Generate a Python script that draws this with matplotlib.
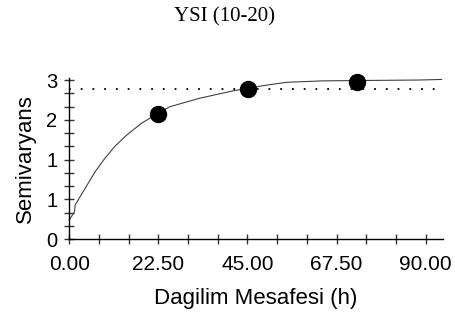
import matplotlib
matplotlib.use("Agg")
import matplotlib.pyplot as plt

# lag distances and semivariance of the three experimental points
lag = [22.5, 45.05, 72.7]
semivar = [2.21, 2.64, 2.77]

# fitted model curve
model_h = [0, 1.35, 1.5, 4.0, 6.5, 9.0, 11.5, 14.5, 18.3, 21.6, 25.4, 33.0,
           41.4, 49.8, 54.9, 64.1, 88.6, 94.0]
model_g = [0.335, 0.48, 0.60, 0.89, 1.18, 1.42, 1.63, 1.83, 2.04, 2.18, 2.33,
           2.48, 2.61, 2.71, 2.76, 2.785, 2.80, 2.81]

sill = 2.636

x_ticks = [i * 7.5 for i in range(13)]
x_labels = ["%.2f" % v if i % 3 == 0 else "" for i, v in enumerate(x_ticks)]
y_ticks = [i * 2.8 / 12 for i in range(13)]
y_labels = ["0", "", "", "1", "", "", "1", "", "", "2", "", "", "3"]

plt.rcParams["font.family"] = ["Liberation Sans", "DejaVu Sans"]

fig = plt.figure(figsize=(4.55, 3.28), dpi=100)
ax = fig.add_axes([0.152, 0.271, 0.822, 0.492])

ax.plot(model_h, model_g, color="#404040", lw=0.8, clip_on=False)
ax.plot([0, 94.4], [sill, sill], color="black", lw=1.3,
        linestyle=(0, (1, 5.5)))
ax.plot(lag, semivar, "o", color="black", markersize=11.5, clip_on=False,
        zorder=5)

ax.set_xlim(0, 94.4)
ax.set_ylim(0, 2.84)
for side in ["top", "right"]:
    ax.spines[side].set_visible(False)
ax.spines["left"].set_linewidth(1.0)
ax.spines["bottom"].set_linewidth(1.0)

ax.set_xticks(x_ticks)
ax.set_xticklabels(x_labels, fontsize=15)
ax.set_yticks(y_ticks)
ax.set_yticklabels(y_labels, fontsize=14.5)
ax.tick_params(direction="inout", length=7, width=1.0, color="#333333")
ax.tick_params(axis="x", pad=8)
ax.tick_params(axis="y", pad=5)

ax.set_xlabel("Dagilim Mesafesi (h)", fontsize=16, labelpad=10)
ax.set_ylabel("Semivaryans", fontsize=16, labelpad=7)
fig.text(0.493, 0.948, "YSI (10-20)", ha="center", va="center",
         fontsize=15, family="Liberation Serif")

fig.savefig("out.png", dpi=100)
